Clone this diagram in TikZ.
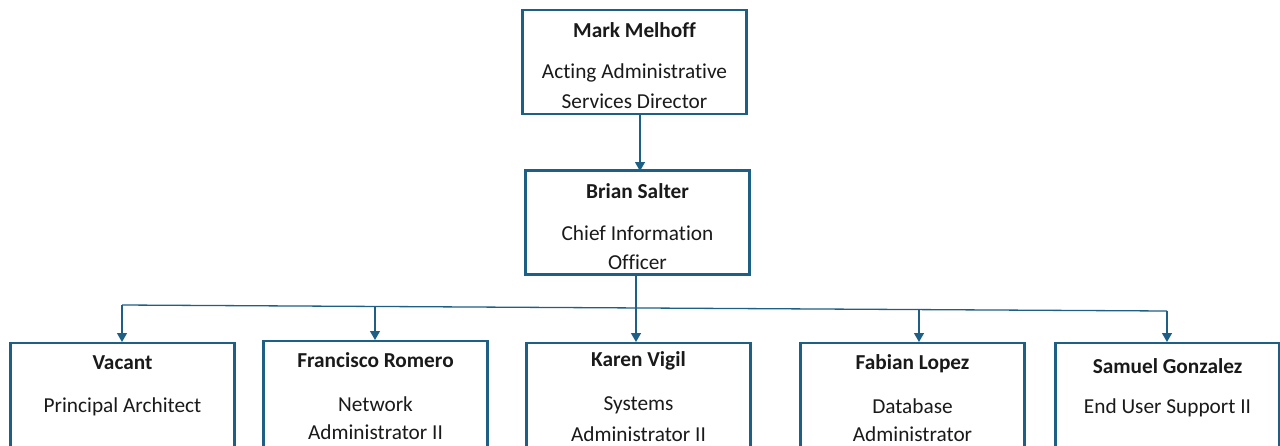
\documentclass[tikz,border=0pt]{standalone}
\usepackage{fontspec}
\setmainfont[Ligatures=NoCommon]{Carlito}
\usetikzlibrary{arrows.meta}
\definecolor{orgblue}{HTML}{1E5F85}
\definecolor{txt}{HTML}{1A1A1A}
\tikzset{
  box/.style={draw=orgblue, line width=2.4pt, fill=white, minimum width=224pt, minimum height=104pt, inner sep=0pt},
  nm/.style={font=\fontsize{21.3}{24}\selectfont\bfseries, text=txt, inner sep=0pt},
  rl/.style={font=\fontsize{21.3}{24}\selectfont, text=txt, inner sep=0pt},
  conn/.style={draw=orgblue, line width=1.3pt},
  arr/.style={conn, -{Triangle[width=10pt,length=9pt]}}
}
\begin{document}
\begin{tikzpicture}[x=1pt,y=-1pt]
\useasboundingbox (0,0) rectangle (1280,445);
\clip (0,0) rectangle (1280,445);
% boxes
\node[box] (mark) at (634.5,62) {};
\node[box] (brian) at (637.5,222.5) {};
\node[box, minimum height=120pt] (vacant) at (122.5,403) {};
\node[box, minimum height=120pt] (francisco) at (375.5,401) {};
\node[box, minimum height=120pt] (karen) at (638.5,403) {};
\node[box, minimum height=120pt] (fabian) at (912.5,403) {};
\node[box, minimum height=120pt] (samuel) at (1167.5,403) {};
% texts
\node[nm] (markn) at (634.5,30) {Mark Melhoff};
\node[rl] (markr1) at (634.5,73) {Acting Administrative};
\node[rl] (markr2) at (634.5,101) {Services Director};
\node[nm] (briann) at (637.5,191) {Brian Salter};
\node[rl] (brianr1) at (637.5,233) {Chief Information};
\node[rl] (brianr2) at (637.5,262) {Officer};
\node[nm] (vacantn) at (122.5,363) {Vacant};
\node[rl] (vacantr) at (122.5,407) {Principal Architect};
\node[nm] (francn) at (375.5,360) {Francisco Romero};
\node[rl] (francr1) at (375.5,404) {Network};
\node[rl] (francr2) at (375.5,432) {Administrator II};
\node[nm] (karenn) at (638.5,361) {Karen Vigil};
\node[rl] (karenr1) at (638.5,405) {Systems};
\node[rl] (karenr2) at (638.5,434) {Administrator II};
\node[nm] (fabiann) at (912.5,364) {Fabian Lopez};
\node[rl] (fabianr1) at (912.5,406) {Database};
\node[rl] (fabianr2) at (912.5,434) {Administrator};
\node[nm] (samueln) at (1167.5,366) {Samuel Gonzalez};
\node[rl] (samuelr) at (1167.5,408) {End User Support II};
% bus coordinates
\coordinate (bv) at (122,305);
\coordinate (bf) at (375,306.5);
\coordinate (bk) at (636,308);
\coordinate (bd) at (919,309.5);
\coordinate (bs) at (1167,311);
% connectors
\draw[arr] (640,114) -- (640,171);
\draw[conn] (636,274) -- (bk);
\draw[conn] (bv) -- (bs);
\draw[arr] (bv) -- (122,342);
\draw[arr] (bf) -- (375,340);
\draw[arr] (bk) -- (636,342);
\draw[arr] (bd) -- (919,342);
\draw[arr] (bs) -- (1167,342);
\end{tikzpicture}
\end{document}
